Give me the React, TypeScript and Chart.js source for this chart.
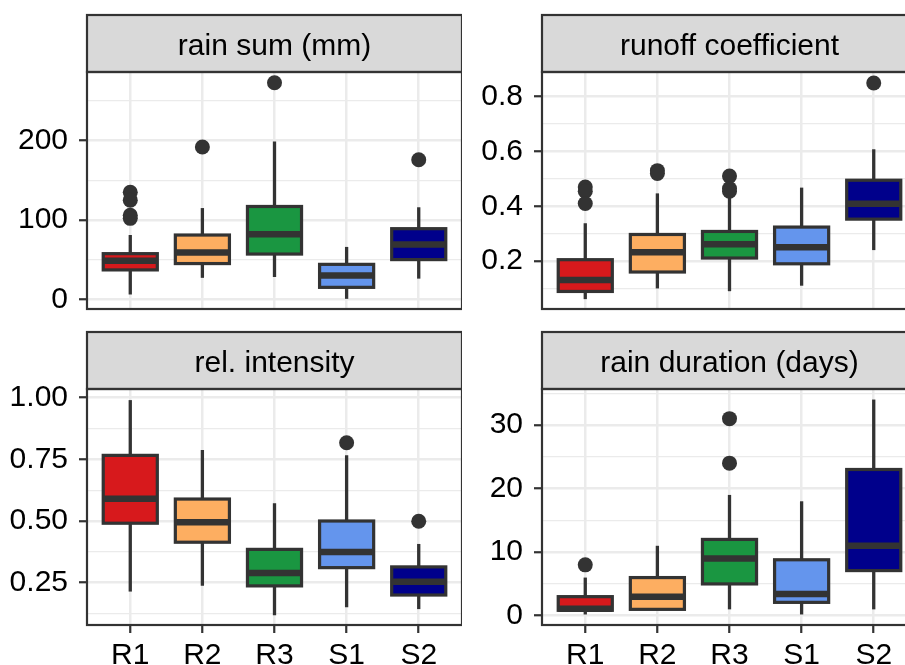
import React, { useEffect, useRef } from 'react';
import { Chart, registerables } from 'chart.js';

Chart.register(...registerables);

// ---------- data ----------
const categories = ['R1', 'R2', 'R3', 'S1', 'S2'];
const boxColors = ['#d7191c', '#fdae61', '#1a9641', '#6495ed', '#00008b'];

// rain sum (mm)
const rainSumLow = [6, 27, 28, 0.5, 26];
const rainSumQ1 = [37, 45, 57, 15, 50];
const rainSumMed = [48.5, 59, 82, 30, 69];
const rainSumQ3 = [57.5, 81, 117, 44, 89];
const rainSumHigh = [81, 115, 199, 66, 116];
const rainSumOut = [[135, 125, 106, 102], [192], [273], [], [176]];
const rainSumTicks = [0, 100, 200];
const rainSumMinor = [50, 150, 250];
const rainSumLabels = ['0', '100', '200'];

// runoff coefficient
const runoffLow = [0.061, 0.1, 0.09, 0.11, 0.24];
const runoffQ1 = [0.089, 0.16, 0.211, 0.19, 0.353];
const runoffMed = [0.131, 0.232, 0.261, 0.25, 0.409];
const runoffQ3 = [0.205, 0.297, 0.308, 0.324, 0.495];
const runoffHigh = [0.338, 0.447, 0.435, 0.468, 0.608];
const runoffOut = [[0.47, 0.455, 0.41], [0.53, 0.52], [0.51, 0.465, 0.455], [], [0.85]];
const runoffTicks = [0.2, 0.4, 0.6, 0.8];
const runoffMinor = [0.1, 0.3, 0.5, 0.7];
const runoffLabels = ['0.2', '0.4', '0.6', '0.8'];

// rel. intensity
const intensityLow = [0.214, 0.238, 0.118, 0.15, 0.143];
const intensityQ1 = [0.491, 0.414, 0.237, 0.311, 0.2];
const intensityMed = [0.59, 0.495, 0.289, 0.374, 0.254];
const intensityQ3 = [0.766, 0.589, 0.385, 0.5, 0.314];
const intensityHigh = [0.99, 0.788, 0.572, 0.766, 0.407];
const intensityOut = [[], [], [], [0.817], [0.499]];
const intensityTicks = [0.25, 0.5, 0.75, 1.0];
const intensityMinor = [0.125, 0.375, 0.625, 0.875];
const intensityLabels = ['0.25', '0.50', '0.75', '1.00'];

// rain duration (days)
const durationLow = [0, 1, 1, 0, 1];
const durationQ1 = [0.85, 1, 5, 2.1, 7.1];
const durationMed = [1.1, 3, 9, 3.4, 11];
const durationQ3 = [3, 6, 12, 8.8, 23];
const durationHigh = [6, 11, 19, 18, 34];
const durationOut = [[8], [], [31, 24], [], []];
const durationTicks = [0, 10, 20, 30];
const durationMinor = [5, 15, 25, 35];
const durationLabels = ['0', '10', '20', '30'];

type Spec = {
  title: string;
  low: number[];
  q1: number[];
  med: number[];
  q3: number[];
  high: number[];
  out: number[][];
  ticks: number[];
  minor: number[];
  labels: string[];
  yMin: number;
  yMax: number;
  showX: boolean;
  left: number;
  top: number;
  height: number;
  padTop: number;
  xHeight: number;
};

const CANVAS_W = 462;

const specs: Spec[] = [
  {
    title: 'rain sum (mm)', low: rainSumLow, q1: rainSumQ1, med: rainSumMed, q3: rainSumQ3, high: rainSumHigh,
    out: rainSumOut, ticks: rainSumTicks, minor: rainSumMinor, labels: rainSumLabels, yMin: -12.3, yMax: 286.6,
    showX: false, left: 0, top: 0, height: 318, padTop: 72, xHeight: 9,
  },
  {
    title: 'runoff coefficient', low: runoffLow, q1: runoffQ1, med: runoffMed, q3: runoffQ3, high: runoffHigh,
    out: runoffOut, ticks: runoffTicks, minor: runoffMinor, labels: runoffLabels, yMin: 0.025, yMax: 0.89,
    showX: false, left: 455, top: 0, height: 318, padTop: 72, xHeight: 9,
  },
  {
    title: 'rel. intensity', low: intensityLow, q1: intensityQ1, med: intensityMed, q3: intensityQ3, high: intensityHigh,
    out: intensityOut, ticks: intensityTicks, minor: intensityMinor, labels: intensityLabels, yMin: 0.0785, yMax: 1.035,
    showX: true, left: 0, top: 318, height: 347, padTop: 71, xHeight: 40,
  },
  {
    title: 'rain duration (days)', low: durationLow, q1: durationQ1, med: durationMed, q3: durationQ3, high: durationHigh,
    out: durationOut, ticks: durationTicks, minor: durationMinor, labels: durationLabels, yMin: -1.46, yMax: 35.66,
    showX: true, left: 455, top: 318, height: 347, padTop: 71, xHeight: 40,
  },
];

const FONT = '"Liberation Sans", Arial, Helvetica, sans-serif';
const DARK = '#333333';
const GRID = '#ebebeb';

const facetPlugin = {
  id: 'facet',
  afterDatasetDraw(chart: any, args: any, opts: any) {
    if (args.index !== 1) return;
    const ctx = chart.ctx;
    const yScale = chart.scales.y;
    const med: number[] = opts.median;
    args.meta.data.forEach((el: any, i: number) => {
      const p = el.getProps(['x', 'y', 'base', 'width'], true);
      const l = p.x - p.width / 2;
      const r = p.x + p.width / 2;
      const t = Math.min(p.y, p.base);
      const b = Math.max(p.y, p.base);
      ctx.save();
      ctx.strokeStyle = DARK;
      ctx.lineWidth = 3.2;
      ctx.strokeRect(l, t, r - l, b - t);
      const my = yScale.getPixelForValue(med[i]);
      ctx.lineWidth = 6.5;
      ctx.beginPath();
      ctx.moveTo(l, my);
      ctx.lineTo(r, my);
      ctx.stroke();
      ctx.restore();
    });
  },
  afterDraw(chart: any, _args: any, opts: any) {
    const { left, right, top, bottom } = chart.chartArea;
    const ctx = chart.ctx;
    const stripH = 57;
    ctx.save();
    // strip
    ctx.fillStyle = '#d9d9d9';
    ctx.fillRect(left, top - stripH, right - left, stripH);
    ctx.strokeStyle = DARK;
    ctx.lineWidth = 2.2;
    ctx.strokeRect(left, top - stripH, right - left, stripH);
    ctx.fillStyle = '#000';
    ctx.font = '30px ' + FONT;
    ctx.textAlign = 'center';
    ctx.textBaseline = 'alphabetic';
    ctx.fillText(opts.title, (left + right) / 2, top - stripH / 2 + 11);
    // panel border
    ctx.strokeRect(left, top, right - left, bottom - top);
    ctx.restore();
  },
};

function Panel({ spec }: { spec: Spec }) {
  const ref = useRef<HTMLCanvasElement | null>(null);
  useEffect(() => {
    if (!ref.current) return;
    const whiskers = categories.map((_, i) => ({ x: i + 1, y: [spec.low[i], spec.high[i]] }));
    const boxes = categories.map((_, i) => ({ x: i + 1, y: [spec.q1[i], spec.q3[i]] }));
    const outliers: { x: number; y: number }[] = [];
    spec.out.forEach((vals, i) => vals.forEach((v) => outliers.push({ x: i + 1, y: v })));
    const yTickList = [...spec.ticks.map((v) => ({ value: v, minor: false })), ...spec.minor.map((v) => ({ value: v, minor: true }))]
      .filter((t) => t.value >= spec.yMin && t.value <= spec.yMax)
      .sort((a, b) => a.value - b.value);

    const chart = new Chart(ref.current, {
      type: 'bar',
      data: {
        datasets: [
          {
            type: 'bar',
            data: whiskers as any,
            backgroundColor: DARK,
            borderWidth: 0,
            maxBarThickness: 3.3,
            grouped: false,
            order: 2,
          } as any,
          {
            type: 'bar',
            data: boxes as any,
            backgroundColor: boxColors,
            borderWidth: 0,
            barPercentage: 0.75,
            categoryPercentage: 1,
            grouped: false,
            order: 1,
          } as any,
          {
            type: 'scatter',
            data: outliers as any,
            pointRadius: 7.5,
            pointHoverRadius: 7.5,
            pointBackgroundColor: DARK,
            pointBorderWidth: 0,
            order: 0,
          } as any,
        ],
      },
      options: {
        animation: false,
        responsive: false,
        events: [],
        layout: { padding: { left: 0, right: 0, top: spec.padTop, bottom: 0 }, autoPadding: false } as any,
        plugins: {
          legend: { display: false },
          tooltip: { enabled: false },
          facet: { title: spec.title, median: spec.med },
        } as any,
        scales: {
          x: {
            type: 'linear',
            min: 0.4,
            max: 5.6,
            offset: false,
            border: { display: false },
            grid: {
              offset: false,
              color: GRID,
              lineWidth: 2.5,
              drawTicks: spec.showX,
              tickLength: 8,
              tickColor: DARK,
              tickWidth: 2.2,
            },
            ticks: {
              display: spec.showX,
              autoSkip: false,
              maxRotation: 0,
              padding: 5,
              color: '#000',
              font: { size: 30, family: FONT },
              callback: (v: any) => categories[Math.round(Number(v)) - 1] ?? '',
            },
            afterBuildTicks: (scale: any) => {
              scale.ticks = categories.map((_, i) => ({ value: i + 1 }));
            },
            afterFit: (scale: any) => {
              scale.height = spec.xHeight;
              scale.paddingLeft = 0;
              scale.paddingRight = 0;
            },
          } as any,
          y: {
            type: 'linear',
            min: spec.yMin,
            max: spec.yMax,
            border: { display: false },
            grid: {
              color: GRID,
              lineWidth: (c: any) => (c.tick && c.tick.minor ? 1.3 : 2.5),
              drawTicks: true,
              tickLength: 8,
              tickColor: (c: any) => (c.tick && c.tick.minor ? 'rgba(0,0,0,0)' : DARK),
              tickWidth: 2.2,
            },
            ticks: {
              autoSkip: false,
              padding: 11,
              color: '#000',
              font: { size: 30, family: FONT },
              callback: (v: any, idx: number, ticks: any[]) => {
                const t = ticks[idx];
                if (t && t.minor) return '';
                const k = spec.ticks.findIndex((m) => Math.abs(m - Number(v)) < 1e-9);
                return k >= 0 ? spec.labels[k] : '';
              },
            },
            afterBuildTicks: (scale: any) => {
              scale.ticks = yTickList.map((t) => ({ value: t.value, minor: t.minor }));
            },
            afterFit: (scale: any) => {
              scale.width = 87;
              scale.paddingTop = 0;
              scale.paddingBottom = 0;
            },
          } as any,
        },
      },
      plugins: [facetPlugin as any],
    });
    return () => chart.destroy();
  }, [spec]);

  return (
    <canvas
      ref={ref}
      width={CANVAS_W}
      height={spec.height}
      style={{ position: 'absolute', left: spec.left, top: spec.top, width: CANVAS_W, height: spec.height, display: 'block' }}
    />
  );
}

export default function App() {
  return (
    <div
      style={{
        position: 'fixed',
        left: 0,
        top: 0,
        width: 905,
        height: 665,
        overflow: 'hidden',
        background: '#ffffff',
      }}
    >
      {specs.map((s) => (
        <Panel key={s.title} spec={s} />
      ))}
    </div>
  );
}
